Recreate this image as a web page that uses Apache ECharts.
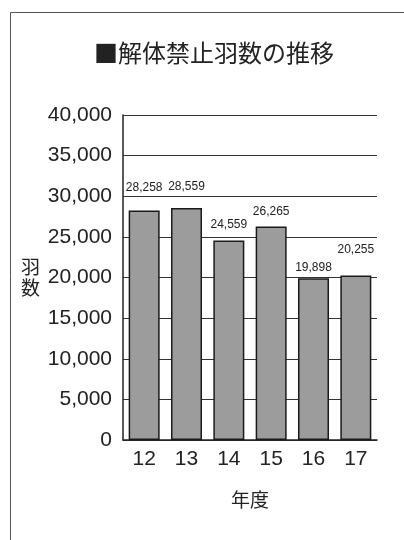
<!DOCTYPE html>
<html>
<head>
<meta charset="utf-8">
<script src="https://cdn.jsdelivr.net/npm/echarts@6/dist/echarts.min.js"></script>
<style>
  html, body { margin: 0; padding: 0; background: #fff; }
  #chart { width: 404px; height: 540px; }
</style>
</head>
<body>
<div id="chart"></div>
<script>
// Fiscal years (平成) and number of birds released from the ban
const years = ['12', '13', '14', '15', '16', '17'];
const birdCounts = [28258, 28559, 24559, 26265, 19898, 20255];
const yMin = 0;
const yMax = 40000;
const yStep = 5000;

// Per-bar space between the bar top and its value label
const labelGaps = [17, 15, 10, 9, 5, 20];

const numFmt = v => Number(v).toLocaleString('en-US');
const ink = '#222';
const jpFont = '"Noto Sans CJK JP", "Noto Sans CJK SC", sans-serif';
const numFont = '"Liberation Sans", Arial, sans-serif';

const chart = echarts.init(document.getElementById('chart'), null, { renderer: 'canvas' });

chart.setOption({
  backgroundColor: '#fff',
  animation: false,
  title: {
    text: '■解体禁止羽数の推移',
    left: 89,
    top: 36,
    textStyle: { fontFamily: jpFont, fontSize: 24, fontWeight: 'normal', color: ink }
  },
  graphic: [{
    type: 'rect',
    shape: { x: 10.5, y: 12.5, width: 460, height: 600 },
    style: { fill: 'none', stroke: '#555', lineWidth: 1 },
    silent: true
  }],
  grid: { left: 123, right: 27, top: 115, bottom: 100, containLabel: false },
  xAxis: {
    type: 'category',
    data: years,
    name: '年度',
    nameLocation: 'middle',
    nameGap: 50,
    nameTextStyle: { fontFamily: jpFont, fontSize: 19, color: ink },
    axisLine: { lineStyle: { color: ink, width: 1.5 } },
    axisTick: { show: false },
    axisLabel: { margin: 9, fontFamily: numFont, fontSize: 21, color: ink }
  },
  yAxis: {
    type: 'value',
    min: yMin,
    max: yMax,
    interval: yStep,
    name: '羽\n数',
    nameLocation: 'middle',
    nameRotate: 0,
    nameGap: 83,
    nameTextStyle: { fontFamily: jpFont, fontSize: 19, lineHeight: 21, color: ink, padding: [0, 0, 12, 0] },
    axisLine: { show: true, lineStyle: { color: ink, width: 1.5 } },
    axisTick: { show: false },
    axisLabel: { margin: 11, fontFamily: numFont, fontSize: 21, color: ink, formatter: numFmt },
    splitLine: { show: true, lineStyle: { color: '#333', width: 1 } }
  },
  series: [{
    type: 'bar',
    barWidth: 31,
    data: birdCounts.map((v, i) => ({
      value: v,
      label: { distance: labelGaps[i] }
    })),
    itemStyle: { color: '#9c9c9c', borderColor: '#1a1a1a', borderWidth: 1.5 },
    label: {
      show: true,
      position: 'top',
      formatter: p => numFmt(p.value),
      fontFamily: numFont,
      fontSize: 12,
      color: ink
    }
  }]
});
</script>
</body>
</html>
